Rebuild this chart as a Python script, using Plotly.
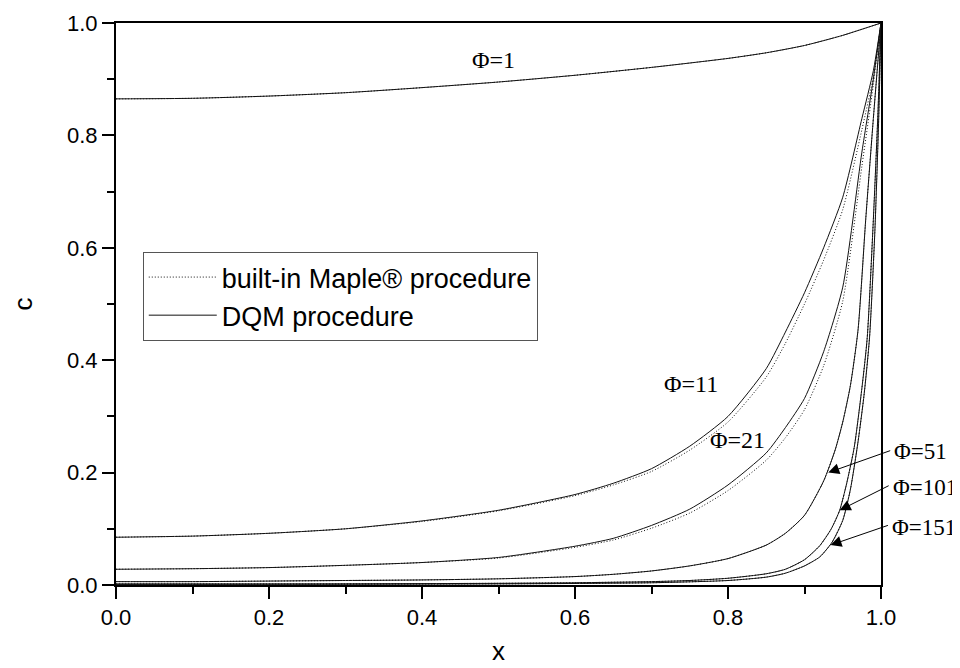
import plotly.graph_objects as go

# ---- data ----
x_phi1 = [0.0, 0.1, 0.2, 0.3, 0.4, 0.5, 0.6, 0.7, 0.8, 0.85, 0.9, 0.95, 1.0]
c_phi1 = [0.865, 0.866, 0.870, 0.876, 0.885, 0.895, 0.907, 0.921, 0.937, 0.947, 0.960, 0.978, 1.0]

x_phi11 = [0.0, 0.1, 0.2, 0.3, 0.4, 0.5, 0.6, 0.65, 0.7, 0.75, 0.8, 0.85, 0.875, 0.9, 0.925, 0.95, 0.975, 0.99, 1.0]
c_phi11_dqm = [0.085, 0.087, 0.092, 0.100, 0.114, 0.133, 0.161, 0.181, 0.207, 0.247, 0.300, 0.385, 0.450, 0.520, 0.600, 0.690, 0.830, 0.915, 1.0]
c_phi11_maple = [0.085, 0.087, 0.092, 0.100, 0.113, 0.132, 0.159, 0.178, 0.202, 0.240, 0.290, 0.370, 0.430, 0.500, 0.578, 0.668, 0.810, 0.905, 1.0]

x_phi21 = [0.0, 0.1, 0.2, 0.3, 0.4, 0.5, 0.6, 0.65, 0.7, 0.75, 0.8, 0.85, 0.875, 0.9, 0.925, 0.95, 0.975, 0.99, 1.0]
c_phi21_dqm = [0.028, 0.029, 0.031, 0.035, 0.040, 0.049, 0.069, 0.083, 0.106, 0.135, 0.178, 0.235, 0.280, 0.332, 0.415, 0.530, 0.770, 0.900, 1.0]
c_phi21_maple = [0.028, 0.029, 0.031, 0.035, 0.040, 0.048, 0.067, 0.080, 0.101, 0.128, 0.168, 0.222, 0.262, 0.312, 0.390, 0.505, 0.745, 0.890, 1.0]

x_phi51 = [0.0, 0.1, 0.2, 0.3, 0.4, 0.5, 0.6, 0.65, 0.7, 0.75, 0.8, 0.85, 0.875, 0.9, 0.925, 0.94, 0.95, 0.96, 0.97, 0.98, 0.99, 1.0]
c_phi51 = [0.006, 0.006, 0.007, 0.008, 0.009, 0.011, 0.015, 0.019, 0.025, 0.034, 0.047, 0.071, 0.092, 0.124, 0.185, 0.240, 0.290, 0.355, 0.454, 0.650, 0.830, 1.0]

x_phi101 = [0.0, 0.3, 0.5, 0.6, 0.7, 0.75, 0.8, 0.85, 0.875, 0.9, 0.92, 0.935, 0.946, 0.955, 0.965, 0.975, 0.982, 0.99, 0.996, 1.0]
c_phi101 = [0.002, 0.002, 0.003, 0.004, 0.006, 0.008, 0.012, 0.020, 0.028, 0.045, 0.070, 0.100, 0.133, 0.180, 0.245, 0.350, 0.440, 0.650, 0.840, 1.0]

x_phi151 = [0.0, 0.5, 0.7, 0.8, 0.85, 0.875, 0.9, 0.92, 0.936, 0.95, 0.96, 0.97, 0.978, 0.985, 0.992, 0.997, 1.0]
c_phi151 = [0.001, 0.002, 0.004, 0.008, 0.014, 0.021, 0.034, 0.050, 0.076, 0.115, 0.170, 0.255, 0.340, 0.440, 0.630, 0.830, 1.0]

x_ticks = [0.0, 0.2, 0.4, 0.6, 0.8, 1.0]
y_ticks = [0.0, 0.2, 0.4, 0.6, 0.8, 1.0]
tick_text = ["0.0", "0.2", "0.4", "0.6", "0.8", "1.0"]

# curve labels: (text, x, y)
curve_labels = [("Φ=1", 0.493, 0.934), ("Φ=11", 0.752, 0.358), ("Φ=21", 0.813, 0.258)]
# arrowed labels: (text, text_left_x, text_y, tail_x, tail_y, tip_x, tip_y)
arrow_labels = [("Φ=51", 1.0155, 0.238, 1.014, 0.240, 0.931, 0.200),
                ("Φ=101", 1.0145, 0.1735, 1.012, 0.178, 0.946, 0.133),
                ("Φ=151", 1.0135, 0.102, 1.011, 0.107, 0.934, 0.071)]

LINE = "#111111"
fig = go.Figure()

maple_sets = [(x_phi1, c_phi1), (x_phi11, c_phi11_maple), (x_phi21, c_phi21_maple),
              (x_phi51, c_phi51), (x_phi101, c_phi101), (x_phi151, c_phi151)]
dqm_sets = [(x_phi1, c_phi1), (x_phi11, c_phi11_dqm), (x_phi21, c_phi21_dqm),
            (x_phi51, c_phi51), (x_phi101, c_phi101), (x_phi151, c_phi151)]

for i, (xs, ys) in enumerate(maple_sets):
    fig.add_trace(go.Scatter(x=xs, y=ys, mode="lines",
                             line=dict(color=LINE, width=1, dash="1px,2px", shape="spline", smoothing=0.6),
                             name="built-in Maple® procedure", legendgroup="maple", showlegend=(i == 0)))
for i, (xs, ys) in enumerate(dqm_sets):
    fig.add_trace(go.Scatter(x=xs, y=ys, mode="lines",
                             line=dict(color=LINE, width=1, shape="spline", smoothing=0.6),
                             name="DQM procedure", legendgroup="dqm", showlegend=(i == 0)))

serif = dict(family="Liberation Serif", size=24, color="black")
for t, tx, ty in curve_labels:
    fig.add_annotation(x=tx, y=ty, text=t, showarrow=False, font=serif)
for t, lx, ly, tx, ty, px, py in arrow_labels:
    # label text placed in paper coordinates (x beyond the axis range)
    fig.add_annotation(x=lx, y=ly, xref="paper", yref="y", text=t, showarrow=False,
                       xanchor="left", yanchor="middle", borderpad=0,
                       font=dict(family="Liberation Serif", size=23, color="black"))
    fig.add_annotation(x=px, y=py, ax=tx, ay=ty, axref="x", ayref="y", text="",
                       showarrow=True, arrowhead=2, arrowsize=2.2, arrowwidth=1, arrowcolor="black",
                       standoff=0, startstandoff=0)

axis_common = dict(showline=True, linewidth=2, linecolor="black", mirror=True,
                   ticks="outside", ticklen=12, tickwidth=2, tickcolor="black",
                   showgrid=False, zeroline=False, range=[0, 1],
                   tickfont=dict(family="Liberation Sans", size=22, color="black"),
                   minor=dict(ticks="outside", ticklen=7, tickwidth=2, tickcolor="black", dtick=0.1))

fig.update_xaxes(**axis_common, tickvals=x_ticks, ticktext=tick_text,
                 title=dict(text="x", font=dict(family="Liberation Sans", size=26, color="black"), standoff=12))
fig.update_yaxes(**axis_common, tickvals=y_ticks, ticktext=tick_text,
                 title=dict(text="c", font=dict(family="Liberation Sans", size=26, color="black"), standoff=27))

# the page body adds an 8px offset, so the figure is 952x660 and margins are shifted by 8px
fig.update_layout(
    width=952, height=660,
    margin=dict(l=108, r=79, t=15, b=83, autoexpand=False),
    plot_bgcolor="white", paper_bgcolor="white",
    legend=dict(x=0.035, y=0.5925, xanchor="left", yanchor="top",
                bgcolor="white", bordercolor="#555555", borderwidth=1,
                font=dict(family="Liberation Sans", size=27, color="black"),
                itemwidth=68, tracegroupgap=0),
    showlegend=True,
)

fig.write_html("out.html")
